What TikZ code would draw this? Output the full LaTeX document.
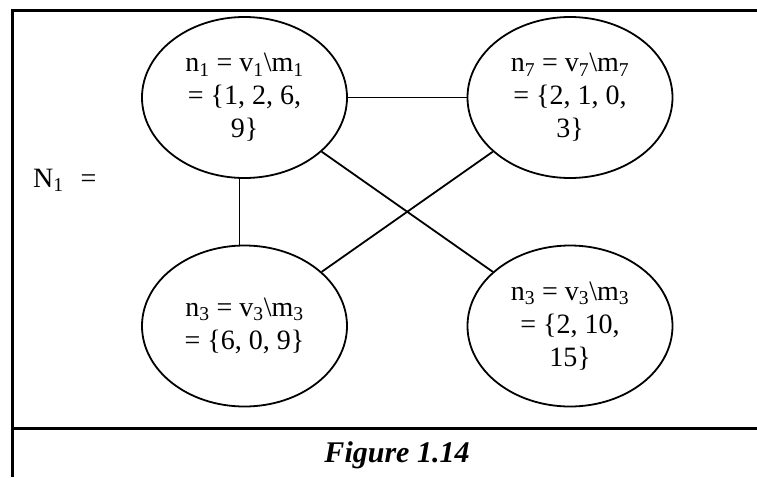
\documentclass[tikz,border=0pt]{standalone}
\usepackage{fontspec}
\setmainfont{Liberation Serif}
\usetikzlibrary{shapes.geometric}

\begin{document}
\begin{tikzpicture}[x=1pt,y=-1pt,
  set/.style={draw,line width=1.8pt,ellipse,minimum width=205pt,minimum height=161pt,
    inner sep=0pt,align=center,font=\fontsize{28}{33}\selectfont},
  edge/.style={line width=1.8pt}]
\useasboundingbox (0,0) rectangle (757,477);

%frame
\draw[line width=3pt] (12,477) -- (12,10) -- (757,10);
\draw[line width=3pt] (12,428) -- (757,428);

%label
\node[anchor=base west,inner sep=0pt,font=\fontsize{28}{33}\selectfont] (lbl) at (33,187)
  {N\textsubscript{1}\hspace{17pt}=};

%sets
\node[set] (n1) at (244.5,97.5) {n\textsubscript{1} = v\textsubscript{1}\textbackslash m\textsubscript{1}\\= \{1, 2, 6,\\9\}};
\node[set] (n7) at (570,97.5) {n\textsubscript{7} = v\textsubscript{7}\textbackslash m\textsubscript{7}\\= \{2, 1, 0,\\3\}};
\node[set] (n3) at (244.5,326) {n\textsubscript{3} = v\textsubscript{3}\textbackslash m\textsubscript{3}\\= \{6, 0, 9\}};
\node[set] (n3b) at (570,326) {n\textsubscript{3} = v\textsubscript{3}\textbackslash m\textsubscript{3}\\= \{2, 10,\\15\}};

%edges
\draw[edge] (n1) -- (n7);
\draw[edge] ([xshift=-5pt]n1.south) -- ([xshift=-5pt]n3.north);
\draw[edge] (n1) -- (n3b);
\draw[edge] (n7) -- (n3);

%caption
\node[anchor=base,inner sep=0pt,font=\fontsize{30}{33}\selectfont\bfseries\itshape] (cap) at (397,462) {Figure 1.14};
\end{tikzpicture}
\end{document}
